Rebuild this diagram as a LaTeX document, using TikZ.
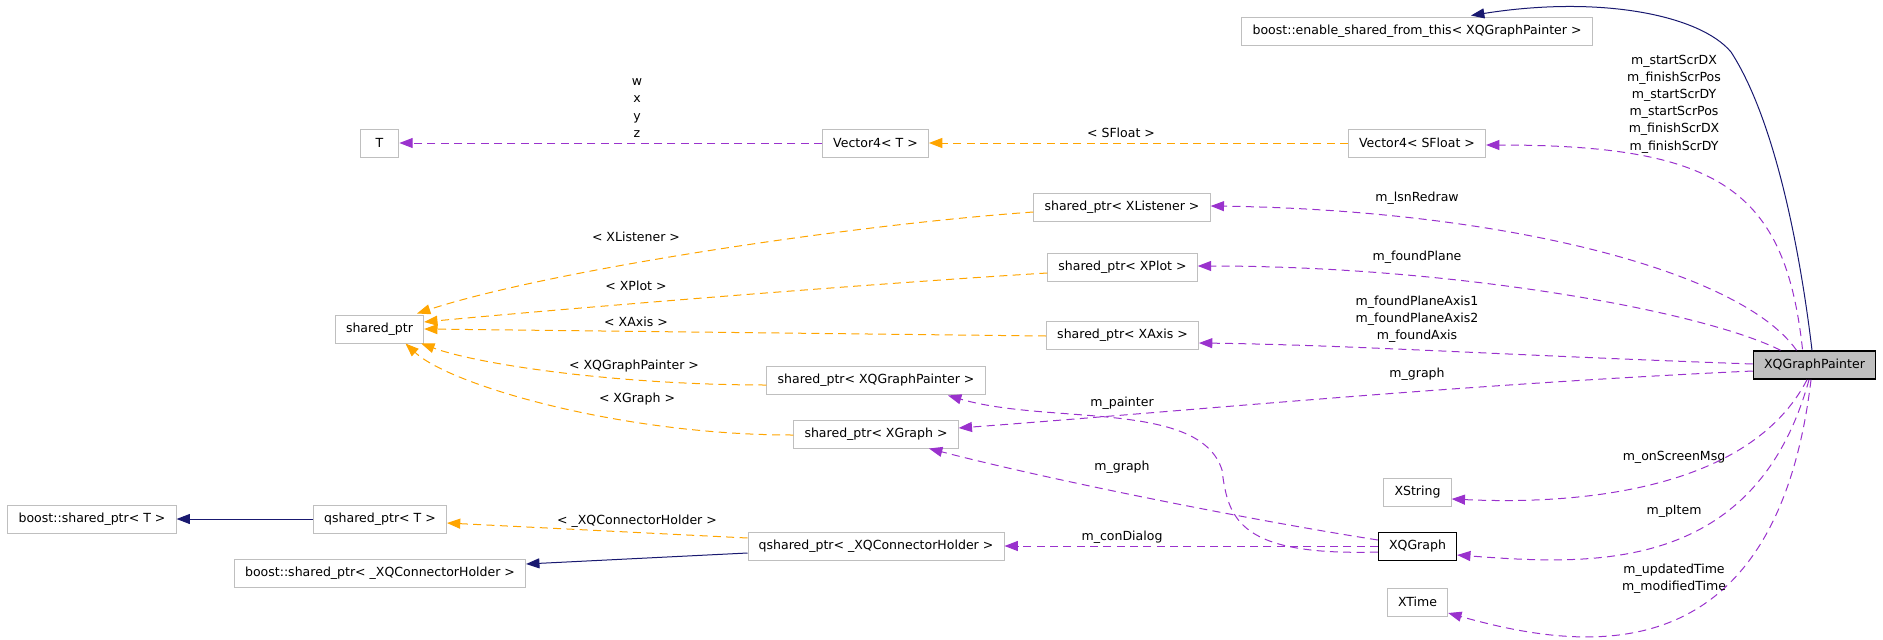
\documentclass[tikz,border=0pt]{standalone}
\usepackage{fontspec}
\setmainfont{DejaVu Sans}
\usetikzlibrary{arrows.meta, calc}
\definecolor{usageColor}{HTML}{9A32CD}
\definecolor{tmplColor}{HTML}{FFA500}
\definecolor{inhColor}{HTML}{191970}
\definecolor{boxColor}{HTML}{BFBFBF}

\begin{document}
\begin{tikzpicture}[x=0.75pt, y=-0.75pt,
    every node/.style={font=\fontsize{9.4}{12.9}\selectfont},
    cls/.style={draw=boxColor, line width=0.75pt, fill=white, minimum height=21pt, inner xsep=8pt, inner ysep=0pt},
    focus/.style={cls, draw=black, line width=1.1pt, fill=boxColor},
    lbl/.style={align=center, inner sep=0pt},
    tip/.style={-{Triangle[length=10pt, width=7.5pt]}},
    usage/.style={tip, usageColor, line width=0.75pt, dash pattern=on 6pt off 4pt},
    tmpl/.style={tip, tmplColor, line width=0.75pt, dash pattern=on 6pt off 4pt},
    inh/.style={tip, inhColor, line width=0.75pt}]
    \useasboundingbox (0,0) rectangle (1883,639);

    % classes
    \node[cls] (esft) at (1417,31) {boost::enable\_shared\_from\_this< XQGraphPainter >};
    \node[cls] (vecT) at (875.5,143) {Vector4< T >};
    \node[cls, minimum width=29pt] (tparam) at (379.5,143) {T};
    \node[cls] (vecSF) at (1417,143) {Vector4< SFloat >};
    \node[cls] (spListener) at (1122,207) {shared\_ptr< XListener >};
    \node[cls] (spPlot) at (1122.5,267) {shared\_ptr< XPlot >};
    \node[cls] (sp) at (379.5,329) {shared\_ptr};
    \node[cls] (spAxis) at (1122.5,335) {shared\_ptr< XAxis >};
    \node[cls] (spPainter) at (876,380) {shared\_ptr< XQGraphPainter >};
    \node[cls] (spGraph) at (876,434) {shared\_ptr< XGraph >};
    \node[focus] (painter) at (1814.5,365) {XQGraphPainter};
    \node[cls] (bspT) at (92,519) {boost::shared\_ptr< T >};
    \node[cls] (qspT) at (380,519) {qshared\_ptr< T >};
    \node[cls] (bspHolder) at (380,573) {boost::shared\_ptr< \_XQConnectorHolder >};
    \node[cls] (qspHolder) at (876,546) {qshared\_ptr< \_XQConnectorHolder >};
    \node[cls] (xstring) at (1417.5,492.5) {XString};
    \node[cls, draw=black] (xqgraph) at (1417.5,546) {XQGraph};
    \node[cls] (xtime) at (1417.5,602) {XTime};

    % inheritance
    \draw[inh] ($(painter.north)+(-2.5,0)$) .. controls (1800,250) and (1775,120) .. (1731,52)
        .. controls (1700,15) and (1600,-5) .. ($(esft.north)+(54,-1)$);
    \draw[inh] (qspT.west) -- (bspT.east);
    \draw[inh] ($(qspHolder.west)+(0,7)$) -- ($(bspHolder.east)+(0,-9)$);

    % members of XQGraphPainter
    \draw[usage] ($(painter.north)+(-12,-1)$) .. controls (1785,190) and (1720,145) .. ($(vecSF.east)+(0,2)$);
    \draw[usage] ($(painter.north)+(-18,0)$) .. controls (1740,270) and (1500,210) .. ($(spListener.east)+(0,-1)$);
    \draw[usage] ($(painter.north)+(-34,0)$) .. controls (1700,310) and (1450,266) .. ($(spPlot.east)+(0,-1)$);
    \draw[usage] ($(painter.west)+(0,-1)$) .. controls (1500,355) and (1350,345) .. ($(spAxis.east)+(0,8)$);
    \draw[usage] ($(painter.west)+(0,6)$) .. controls (1450,385) and (1200,410) .. ($(spGraph.east)+(0,-6)$);
    \draw[usage] ($(painter.south)+(-7.5,0)$) .. controls (1750,490) and (1580,505) .. ($(xstring.east)+(0,6.5)$);
    \draw[usage] ($(painter.south)+(-5.5,0)$) .. controls (1755,575) and (1590,565) .. ($(xqgraph.east)+(0,9)$);
    \draw[usage] ($(painter.south)+(-3.5,0)$) .. controls (1775,680) and (1580,650) .. ($(xtime.east)+(0,11)$);

    % members of XQGraph
    \draw[usage] ($(xqgraph.west)+(0,-6)$) .. controls (1250,520) and (1050,480) .. ($(spGraph.south)+(53,0)$);
    \draw[usage] ($(xqgraph.west)+(0,6)$) .. controls (1240,556) and (1228,520) .. (1222,470)
        .. controls (1200,400) and (1050,425) .. ($(spPainter.south)+(72,1)$);
    \draw[usage] (xqgraph.west) -- (qspHolder.east);

    % template instances
    \draw[usage] (vecT.west) -- (tparam.east);
    \draw[tmpl] (vecSF.west) -- (vecT.east);
    \draw[tmpl] ($(spListener.west)+(0,5)$) .. controls (850,225) and (550,270) .. ($(sp.north)+(37.5,-1)$);
    \draw[tmpl] ($(spPlot.west)+(0,6)$) .. controls (850,285) and (550,310) .. ($(sp.east)+(0,-7)$);
    \draw[tmpl] ($(spAxis.west)+(0,1)$) -- (sp.east);
    \draw[tmpl] ($(spPainter.west)+(0,5)$) .. controls (620,385) and (480,365) .. ($(sp.south east)+(-3,0)$);
    \draw[tmpl] ($(spGraph.west)+(0,1)$) .. controls (620,435) and (450,385) .. ($(sp.south)+(26,0)$);
    \draw[tmpl] ($(qspHolder.west)+(0,-8)$) -- ($(qspT.east)+(0,4)$);

    % edge labels
    \node[lbl] (lblWXYZ) at (637,108) {w\\x\\y\\z};
    \node[lbl] (lblSFloat) at (1121,133) {< SFloat >};
    \node[lbl] (lblScr) at (1674,104) {m\_startScrDX\\m\_finishScrPos\\m\_startScrDY\\m\_startScrPos\\m\_finishScrDX\\m\_finishScrDY};
    \node[lbl] (lblLsn) at (1417,198) {m\_lsnRedraw};
    \node[lbl] (lblPlane) at (1417,257) {m\_foundPlane};
    \node[lbl] (lblAxis) at (1417,319) {m\_foundPlaneAxis1\\m\_foundPlaneAxis2\\m\_foundAxis};
    \node[lbl] (lblGraphA) at (1417,374) {m\_graph};
    \node[lbl] (lblListener) at (636,237) {< XListener >};
    \node[lbl] (lblPlot) at (636,286) {< XPlot >};
    \node[lbl] (lblXAxis) at (636,322) {< XAxis >};
    \node[lbl] (lblPainterT) at (634,366) {< XQGraphPainter >};
    \node[lbl] (lblGraphT) at (637,399) {< XGraph >};
    \node[lbl] (lblHolder) at (637,521) {< \_XQConnectorHolder >};
    \node[lbl] (lblPainter) at (1122,403) {m\_painter};
    \node[lbl] (lblGraphB) at (1122,467) {m\_graph};
    \node[lbl] (lblDialog) at (1122,537) {m\_conDialog};
    \node[lbl] (lblMsg) at (1674,457) {m\_onScreenMsg};
    \node[lbl] (lblItem) at (1674,511) {m\_pItem};
    \node[lbl] (lblTime) at (1674,578.5) {m\_updatedTime\\m\_modifiedTime};
\end{tikzpicture}
\end{document}
